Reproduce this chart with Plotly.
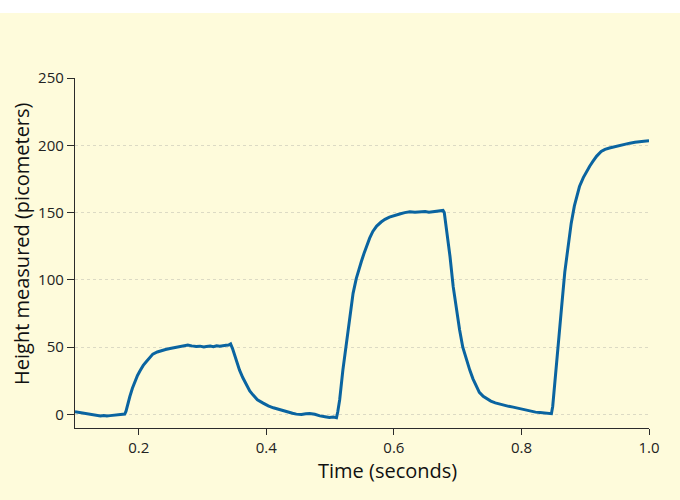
import plotly.graph_objects as go

time_s = [
    0.100, 0.105, 0.110, 0.115, 0.120, 0.125, 0.130, 0.135, 0.140, 0.145,
    0.150, 0.155, 0.160, 0.165, 0.170, 0.175, 0.178,
    0.180, 0.182, 0.186, 0.190, 0.194, 0.198, 0.202, 0.207, 0.212, 0.217, 0.222,
    0.229, 0.236, 0.242, 0.249, 0.256, 0.264, 0.270, 0.277, 0.283, 0.290,
    0.296, 0.302, 0.306, 0.312, 0.317, 0.322, 0.327, 0.332, 0.337, 0.341, 0.344,
    0.347, 0.351, 0.355, 0.358, 0.363, 0.369, 0.374, 0.379, 0.386, 0.395, 0.403,
    0.411, 0.421, 0.431, 0.441, 0.447, 0.455, 0.462, 0.468, 0.476, 0.484, 0.492,
    0.499, 0.505, 0.510,
    0.512, 0.515, 0.520, 0.526, 0.531, 0.536, 0.541, 0.545, 0.549, 0.553, 0.557, 0.562,
    0.567, 0.573, 0.580, 0.586, 0.593, 0.601, 0.609, 0.617, 0.625, 0.633,
    0.641, 0.649, 0.655, 0.661, 0.667, 0.672, 0.677,
    0.679, 0.682, 0.685, 0.688, 0.693, 0.698, 0.703, 0.708, 0.714, 0.719,
    0.724, 0.729, 0.734, 0.740, 0.745, 0.752, 0.759, 0.766, 0.773, 0.780,
    0.787, 0.794, 0.801, 0.808, 0.815, 0.822, 0.829, 0.836, 0.842, 0.847,
    0.849, 0.852, 0.857, 0.863, 0.868, 0.873, 0.878, 0.883, 0.887, 0.891,
    0.897, 0.902, 0.907, 0.912, 0.918, 0.925, 0.931, 0.938, 0.946, 0.954,
    0.962, 0.970, 0.978, 0.985, 0.992, 1.000,
]

height_pm = [
    2.0, 1.6, 1.2, 0.6, 0.2, -0.3, -0.6, -0.9, -1.0, -0.7,
    -1.1, -0.8, -0.5, -0.2, 0.2, 0.1, 0.4,
    2.5, 7.0, 13.4, 19.5, 24.5, 29.0, 32.5, 36.5, 39.4, 42.5, 44.9,
    46.5, 47.6, 48.3, 49.0, 49.6, 50.3, 50.8, 51.6, 51.0, 50.5,
    50.8, 50.2, 50.5, 50.9, 50.4, 51.0, 50.7, 51.3, 51.4, 51.6, 52.5,
    49.0, 43.0, 37.0, 33.0, 27.5, 22.0, 17.5, 14.6, 11.0, 8.5, 6.4,
    5.0, 3.5, 2.2, 1.0, 0.3, 0.1, 0.6, 0.8, 0.2, -1.0, -1.6,
    -2.2, -1.9, -2.4,
    2.0, 11.0, 33.0, 55.5, 75.0, 90.0, 101.0, 108.0, 113.7, 119.5, 124.8, 131.0,
    136.0, 140.0, 143.0, 145.0, 146.6, 148.0, 149.0, 150.0, 150.6, 150.2,
    150.4, 150.8, 150.3, 150.7, 151.0, 150.9, 151.6,
    150.0, 139.7, 129.0, 117.4, 95.0, 77.8, 63.0, 50.0, 40.0, 33.0,
    26.5, 20.8, 16.5, 13.5, 12.0, 10.0, 8.7, 7.7, 6.9, 6.1,
    5.5, 4.7, 3.9, 3.0, 2.6, 1.8, 1.5, 1.0, 1.1, 0.6,
    6.0, 23.0, 52.0, 80.0, 106.0, 126.0, 142.0, 155.0, 163.0, 169.4,
    176.0, 180.5, 184.5, 188.0, 192.0, 195.4, 197.0, 198.0, 199.0, 199.6,
    200.8, 201.6, 202.3, 202.8, 203.0, 203.3,
]

x_tick_vals = [0.2, 0.4, 0.6, 0.8, 1.0]
x_tick_text = ["0.2", "0.4", "0.6", "0.8", "1.0"]
y_tick_vals = [0, 50, 100, 150, 200, 250]
y_tick_text = ["0", "50", "100", "150", "200", "250"]

BG = "#fefbdb"
LINE = "#0a64a0"
AX = "#2b2b2b"
FONT = "Open Sans"

fig = go.Figure()
fig.add_trace(go.Scatter(
    x=time_s, y=height_pm, mode="lines",
    line=dict(color=LINE, width=3),
    hoverinfo="skip", showlegend=False,
))

fig.update_layout(
    width=680, height=500,
    margin=dict(l=75, r=31, t=78, b=72),
    paper_bgcolor=BG, plot_bgcolor=BG,
    font=dict(family=FONT, size=15, color="#222"),
    xaxis=dict(
        range=[0.1, 1.0], tickvals=x_tick_vals, ticktext=x_tick_text,
        showgrid=False, zeroline=False,
        showline=True, linecolor=AX, linewidth=1.4,
        ticks="outside", ticklen=6, tickwidth=1.2, tickcolor=AX,
        tickfont=dict(family=FONT, size=15, color="#222"),
    ),
    yaxis=dict(
        range=[-10, 250], tickvals=y_tick_vals, ticktext=y_tick_text,
        showgrid=True, gridcolor="#dcdac4", griddash="dot", gridwidth=1,
        zeroline=False,
        showline=True, linecolor=AX, linewidth=1.4,
        ticks="outside", ticklen=7, tickwidth=1.2, tickcolor=AX,
        tickfont=dict(family=FONT, size=15, color="#222"),
    ),
    shapes=[dict(
        type="rect", xref="paper", yref="paper",
        x0=-75 / 574, x1=1 + 31 / 574,
        y0=1 + 65 / 350, y1=1 + 78 / 350,
        fillcolor="white", line=dict(width=0), layer="below",
    )],
    annotations=[
        dict(text="Time (seconds)", xref="paper", yref="paper",
             x=(387 - 75) / 574, y=-(470 - 428) / 350,
             xanchor="center", yanchor="middle", showarrow=False,
             font=dict(family=FONT, size=20, color="#111")),
        dict(text="Height measured (picometers)", xref="paper", yref="paper",
             x=-(75 - 21) / 574, y=(428 - 244) / 350,
             xanchor="center", yanchor="middle", showarrow=False, textangle=-90,
             font=dict(family=FONT, size=20, color="#111")),
    ],
)

fig.write_html(
    "out.html",
    config={"displayModeBar": False},
    post_script="document.body.style.margin='0';document.body.style.overflow='hidden';",
)
